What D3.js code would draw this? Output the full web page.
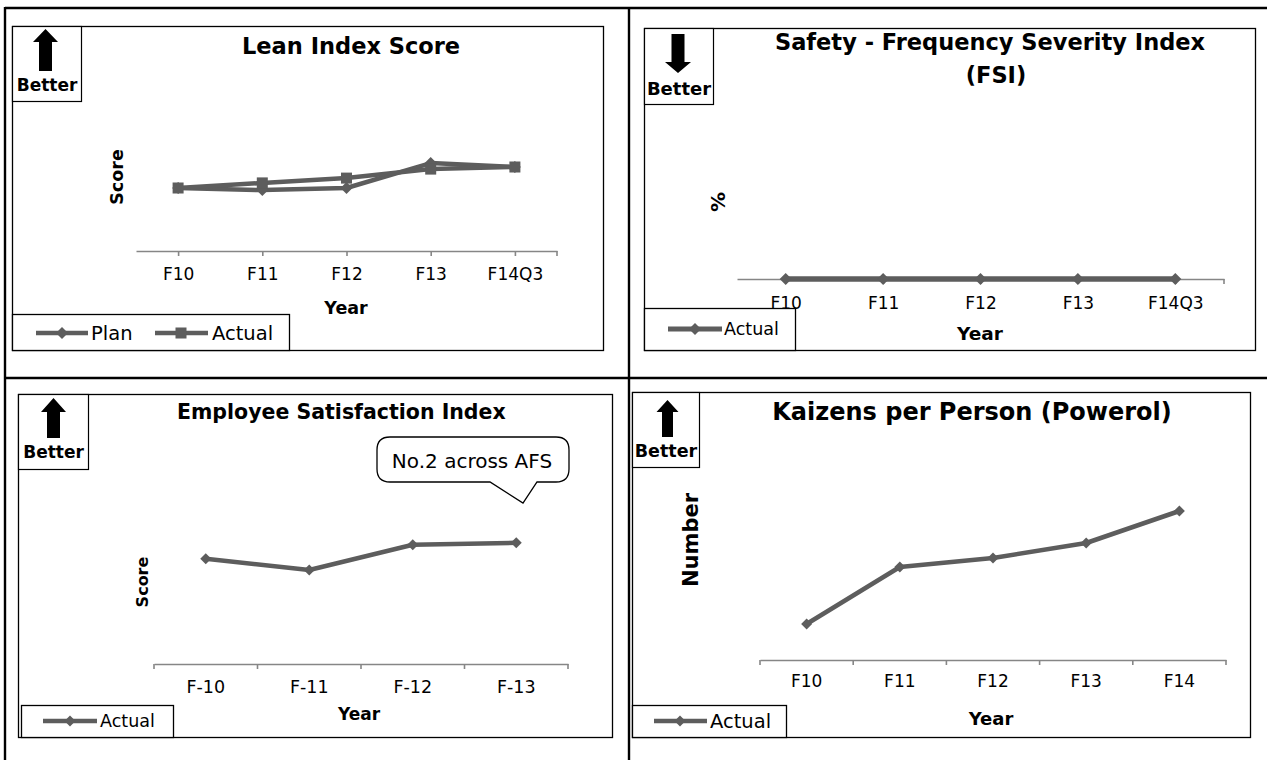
<!DOCTYPE html>
<html><head><meta charset="utf-8">
<script src="https://cdn.jsdelivr.net/npm/d3@7"></script>
<style>body{margin:0;background:#fff}svg{display:block}</style>
</head><body><svg id="c" width="1267" height="760"></svg>
<script>
// ---------- data ----------
const leanYears = ["F10", "F11", "F12", "F13", "F14Q3"];
const leanPlan = [2.1, 2.03, 2.1, 2.93, 2.8];
const leanActual = [2.1, 2.27, 2.43, 2.73, 2.8];

const fsiYears = ["F10", "F11", "F12", "F13", "F14Q3"];
const fsiActual = [0, 0, 0, 0, 0];

const esiYears = ["F-10", "F-11", "F-12", "F-13"];
const esiActual = [2.63, 2.35, 2.98, 3.03];

const kaizenYears = ["F10", "F11", "F12", "F13", "F14"];
const kaizenActual = [0.72, 1.86, 2.04, 2.34, 2.98];

// ---------- style ----------
const GRAY = "#5d5d5d", AX = "#868686";
const V = "'DejaVu Sans', Verdana, sans-serif";
const svg = d3.select("#c");
svg.append("rect").attr("width", 1267).attr("height", 760).attr("fill", "#fff");

function line(g, x1, y1, x2, y2, w, c) {
  g.append("line").attr("x1", x1).attr("y1", y1).attr("x2", x2).attr("y2", y2)
    .attr("stroke", c || "#000").attr("stroke-width", w || 1);
}
function rect(g, x, y, w, h, sw) {
  return g.append("rect").attr("x", x).attr("y", y).attr("width", w).attr("height", h)
    .attr("fill", "#fff").attr("stroke", "#000").attr("stroke-width", sw || 1.3);
}
function text(g, x, y, s, size, bold, anchor) {
  return g.append("text").attr("x", x).attr("y", y).text(s)
    .attr("font-family", V).attr("font-size", size).attr("font-weight", bold ? "bold" : "normal")
    .attr("text-anchor", anchor || "middle").attr("dominant-baseline", "central").attr("fill", "#000");
}
function vtext(g, x, y, s, size) {
  g.append("text").attr("transform", `translate(${x},${y}) rotate(-90)`).text(s)
    .attr("font-family", V).attr("font-size", size).attr("font-weight", "bold")
    .attr("text-anchor", "middle").attr("dominant-baseline", "central");
}
function diamond(g, cx, cy, r) {
  g.append("path").attr("d", `M${cx},${cy - r}L${cx + r},${cy}L${cx},${cy + r}L${cx - r},${cy}Z`).attr("fill", GRAY);
}
function square(g, cx, cy, s) {
  g.append("rect").attr("x", cx - s / 2).attr("y", cy - s / 2).attr("width", s).attr("height", s).attr("fill", GRAY);
}
function arrow(g, cx, tip, base, end, hw, sw) {
  g.append("path").attr("d",
    `M${cx},${tip}L${cx + hw},${base}L${cx + sw},${base}L${cx + sw},${end}L${cx - sw},${end}L${cx - sw},${base}L${cx - hw},${base}Z`)
    .attr("fill", "#000");
}
function betterBox(g, x, y, w, h, a, ty, size) {
  rect(g, x, y, w, h, 1.2);
  arrow(g, a[0], a[1], a[2], a[3], a[4], a[5]);
  text(g, x + w / 2, ty, "Better", size, true);
}
function series(g, xs, ys, cats, vals, mark, w) {
  const pts = cats.map((c, i) => [xs(c), ys(vals[i])]);
  g.append("path").attr("d", d3.line()(pts)).attr("fill", "none")
    .attr("stroke", GRAY).attr("stroke-width", w || 4.5).attr("stroke-linejoin", "round");
  pts.forEach(p => mark(g, p[0], p[1]));
}
function styleAxis(ax, labelDy, size) {
  ax.select(".domain").attr("stroke", AX).attr("stroke-width", 1.6);
  ax.selectAll(".tick line").attr("stroke", AX).attr("stroke-width", 1.6);
  ax.selectAll(".tick text").attr("font-family", V).attr("font-size", size).attr("fill", "#000")
    .attr("dy", null).attr("y", labelDy).attr("dominant-baseline", "central");
}

// ---------- outer table ----------
const T = svg.append("g");
line(T, 5, 8, 1267, 8, 2.4);
line(T, 5, 7, 5, 760, 2.4);
line(T, 629, 7, 629, 760, 2.4);
line(T, 5, 378, 1267, 378, 2.4);

// ---------- panel 1: Lean Index Score ----------
{
  const g = svg.append("g");
  rect(g, 12.5, 26.5, 591, 324);
  betterBox(g, 12.5, 26.5, 69, 75, [45.5, 29, 42, 71, 12.5, 6.5], 85, 17);
  text(g, 242, 46, "Lean Index Score", 22.5, true, "start");
  vtext(g, 117, 177, "Score", 17.5);
  const x = d3.scalePoint().domain(leanYears).range([136, 557]).padding(0.5);
  const y = d3.scaleLinear().domain([0, 5]).range([251, 101]);
  const ax = g.append("g").attr("transform", "translate(0,251)")
    .call(d3.axisBottom(x).tickSize(5).tickSizeOuter(0));
  styleAxis(ax, 23, 17);
  line(g, 557, 251, 557, 256, 1.6, AX);
  series(g, x, y, leanYears, leanPlan, (gg, a, b) => diamond(gg, a, b, 6));
  series(g, x, y, leanYears, leanActual, (gg, a, b) => square(gg, a, b, 11));
  text(g, 346, 308, "Year", 17.5, true);
  // legend
  rect(g, 12.5, 314.5, 277, 36);
  line(g, 36, 333, 88, 333, 4.5, GRAY); diamond(g, 62, 333, 6);
  text(g, 91, 333, "Plan", 19.5, false, "start");
  line(g, 155, 333, 208, 333, 4.5, GRAY); square(g, 181, 333, 11);
  text(g, 212, 333, "Actual", 19.5, false, "start");
}

// ---------- panel 2: Safety FSI ----------
{
  const g = svg.append("g");
  rect(g, 644.5, 28.5, 611, 322);
  rect(g, 644.5, 28.5, 69, 76, 1.2);
  arrow(g, 678, 73, 62, 34, 13, 6.5);
  text(g, 679, 88, "Better", 18, true);
  text(g, 990, 42, "Safety - Frequency Severity Index", 22.5, true);
  text(g, 996, 75, "(FSI)", 22.5, true);
  vtext(g, 718, 202, "%", 20);
  const x = d3.scalePoint().domain(fsiYears).range([737, 1224]).padding(0.5);
  const y = d3.scaleLinear().domain([0, 1]).range([279, 129]);
  const ax = g.append("g").attr("transform", "translate(0,279)")
    .call(d3.axisBottom(x).tickSize(5).tickSizeOuter(0));
  styleAxis(ax, 24, 17);
  line(g, 1224, 279, 1224, 284, 1.6, AX);
  series(g, x, y, fsiYears, fsiActual, (gg, a, b) => diamond(gg, a, b, 6), 5.5);
  text(g, 980, 333, "Year", 18.5, true);
  rect(g, 644.5, 308.5, 151, 42);
  line(g, 668, 329, 722, 329, 5, GRAY); diamond(g, 695, 329, 6);
  text(g, 724, 329, "Actual", 17.5, false, "start");
}

// ---------- panel 3: Employee Satisfaction Index ----------
{
  const g = svg.append("g");
  rect(g, 18.5, 394.5, 594, 343);
  betterBox(g, 18.5, 394.5, 70, 75, [53.5, 398, 412, 438, 12.5, 6.5], 452, 17);
  text(g, 177, 412, "Employee Satisfaction Index", 20.5, true, "start");
  // callout
  const x0 = 377, x1 = 569, y0 = 437, y1 = 482, r = 13;
  g.append("path").attr("d",
    `M${x0 + r},${y0}H${x1 - r}Q${x1},${y0} ${x1},${y0 + r}V${y1 - r}Q${x1},${y1} ${x1 - r},${y1}` +
    `H537L523,503L490,${y1}H${x0 + r}Q${x0},${y1} ${x0},${y1 - r}V${y0 + r}Q${x0},${y0} ${x0 + r},${y0}Z`)
    .attr("fill", "#fff").attr("stroke", "#000").attr("stroke-width", 1.3);
  text(g, 472, 461, "No.2 across AFS", 20, false);
  vtext(g, 142, 582, "Score", 16);
  const x = d3.scaleBand().domain(esiYears).range([154, 568]).padding(0);
  const y = d3.scaleLinear().domain([0, 5]).range([664, 464]);
  const ax = g.append("g").attr("transform", "translate(0,664)")
    .call(d3.axisBottom(x).tickSize(0).tickSizeOuter(0));
  styleAxis(ax, 23, 17.5);
  const edges = esiYears.map(d => x(d)).concat([x.range()[1]]);
  ax.selectAll(".edge").data(edges).join("line").attr("class", "edge")
    .attr("x1", d => d).attr("x2", d => d).attr("y1", 0).attr("y2", 5)
    .attr("stroke", AX).attr("stroke-width", 1.6);
  const xc = d => x(d) + x.bandwidth() / 2;
  series(g, xc, y, esiYears, esiActual, (gg, a, b) => diamond(gg, a, b, 5.5));
  text(g, 359, 714, "Year", 17, true);
  rect(g, 21.5, 705.5, 152, 32);
  line(g, 43, 721, 97, 721, 4.5, GRAY); diamond(g, 70, 721, 5.5);
  text(g, 100, 721, "Actual", 17.5, false, "start");
}

// ---------- panel 4: Kaizens per Person ----------
{
  const g = svg.append("g");
  rect(g, 632.5, 392.5, 618, 345);
  betterBox(g, 632.5, 392.5, 67, 75, [667.5, 400, 412, 437, 11, 5.5], 451, 17.5);
  text(g, 972, 412, "Kaizens per Person (Powerol)", 24, true);
  vtext(g, 691, 540, "Number", 21);
  const x = d3.scaleBand().domain(kaizenYears).range([760, 1226]).padding(0);
  const y = d3.scaleLinear().domain([0, 5]).range([660, 410]);
  const ax = g.append("g").attr("transform", "translate(0,660)")
    .call(d3.axisBottom(x).tickSize(0).tickSizeOuter(0));
  styleAxis(ax, 21, 17);
  const edges = kaizenYears.map(d => x(d)).concat([x.range()[1]]);
  ax.selectAll(".edge").data(edges).join("line").attr("class", "edge")
    .attr("x1", d => d).attr("x2", d => d).attr("y1", 0).attr("y2", 5)
    .attr("stroke", AX).attr("stroke-width", 1.6);
  const xc = d => x(d) + x.bandwidth() / 2;
  series(g, xc, y, kaizenYears, kaizenActual, (gg, a, b) => diamond(gg, a, b, 5.5));
  text(g, 991, 718, "Year", 18, true);
  rect(g, 632.5, 705.5, 154, 32);
  line(g, 654, 721, 707, 721, 4.5, GRAY); diamond(g, 680, 721, 5.5);
  text(g, 710, 721, "Actual", 19.5, false, "start");
}
</script></body></html>
